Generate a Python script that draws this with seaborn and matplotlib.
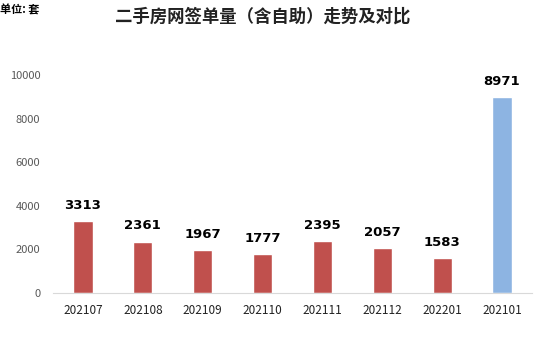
import pandas as pd
import matplotlib.pyplot as plt
import seaborn as sns

months = ["202107", "202108", "202109", "202110", "202111", "202112", "202201", "202101"]
counts = [3313, 2361, 1967, 1777, 2395, 2057, 1583, 8971]
colors = ["#C0504D"] * 7 + ["#8DB4E2"]

sns.set_style("white")
plt.rcParams['font.family'] = ['Noto Sans CJK SC', 'DejaVu Sans']

df = pd.DataFrame({"month": months, "count": counts})

fig = plt.figure(figsize=(5.44, 3.52), dpi=100)
ax = fig.add_axes([53/544, 1 - 293/352, 479/544, 218/352])
sns.barplot(data=df, x="month", y="count", hue="month", palette=colors,
            width=0.32, legend=False, ax=ax, saturation=1)

for i, v in enumerate(counts):
    ax.text(i, v + 420, str(v), ha='center', va='bottom', fontsize=9.5,
            fontweight='bold', color='black', family='DejaVu Sans')

ax.set_ylim(0, 10000)
ax.set_xlim(-0.5, 7.5)
ax.set_yticks(range(0, 10001, 2000))
ax.set_xlabel("")
ax.set_ylabel("")
ax.tick_params(axis='y', labelsize=8, colors='#595959', length=0, pad=9)
ax.tick_params(axis='x', labelsize=8.5, colors='#222222', length=0, pad=8)
for s in ['top', 'right', 'left']:
    ax.spines[s].set_visible(False)
ax.spines['bottom'].set_color('#D9D9D9')

fig.text(0.482, 0.952, "二手房网签单量（含自助）走势及对比", ha='center', va='center',
         fontsize=12.5, fontweight='bold', color='#222222')
fig.text(0.0, 0.972, "单位: 套", ha='left', va='center', fontsize=8,
         fontweight='bold', color='black')

fig.savefig("out.png", dpi=100)
